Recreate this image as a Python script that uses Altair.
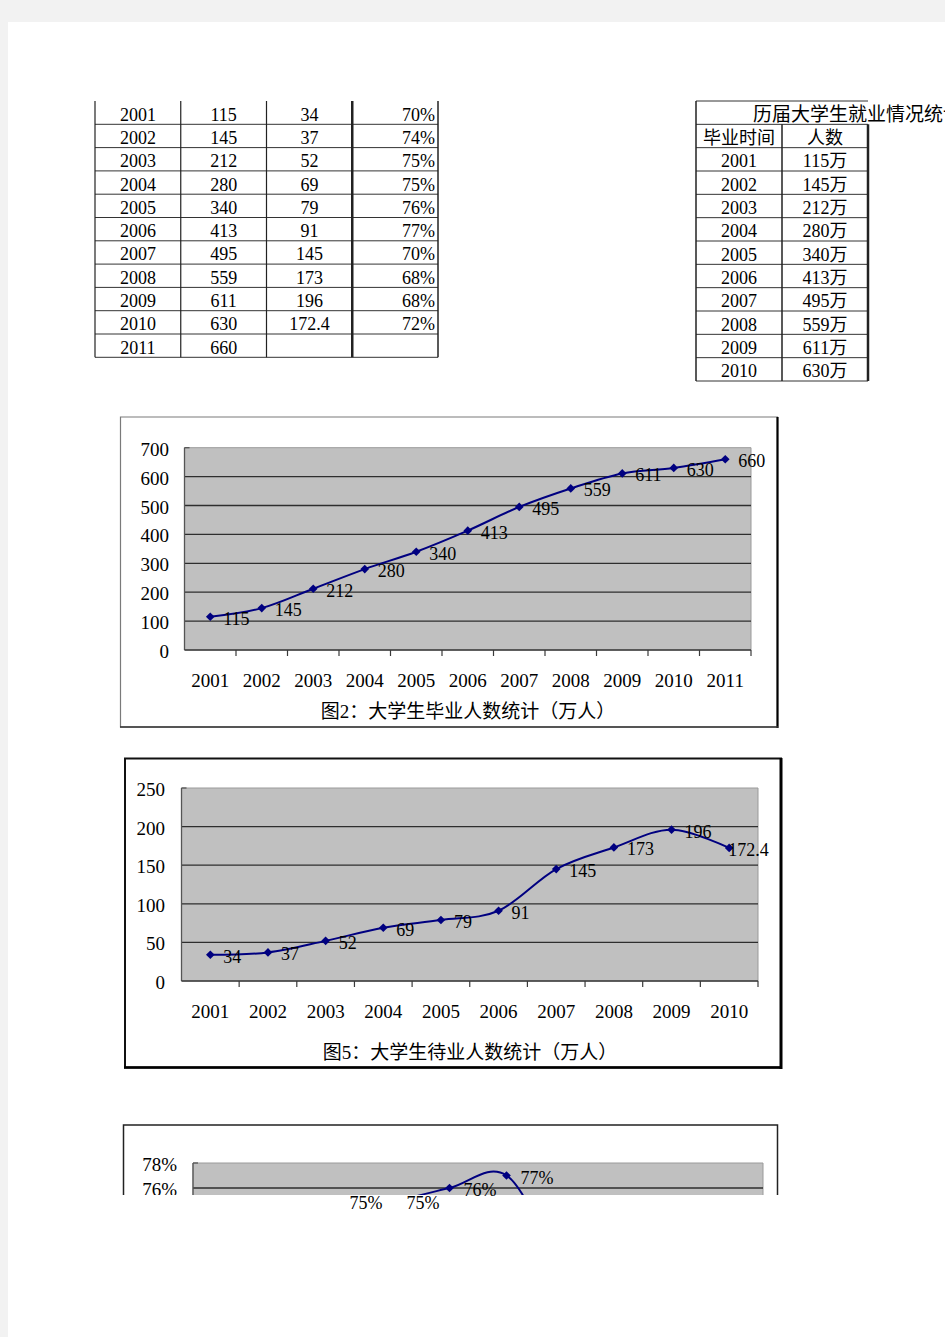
import altair as alt
import pandas as pd

# ---------------- data ----------------
years = [2001, 2002, 2003, 2004, 2005, 2006, 2007, 2008, 2009, 2010, 2011]
graduates = [115, 145, 212, 280, 340, 413, 495, 559, 611, 630, 660]
unemployed = [34, 37, 52, 69, 79, 91, 145, 173, 196, 172.4]
unemployed_text = ["34", "37", "52", "69", "79", "91", "145", "173", "196", "172.4"]
employment_rate = [70, 74, 75, 75, 76, 77, 70, 68, 68, 72]

table2_title = "历届大学生就业情况统计表"
table2_header = ["毕业时间", "人数"]
unit = "万"

chart1_title = "图2：大学生毕业人数统计（万人）"
chart2_title = "图5：大学生待业人数统计（万人）"

y1_ticks = [0, 100, 200, 300, 400, 500, 600, 700]
y2_ticks = [0, 50, 100, 150, 200, 250]
y3_ticks = [66, 68, 70, 72, 74, 76, 78]

# ---------------- style ----------------
FONT = "Liberation Serif, Noto Sans CJK SC"
NAVY = "#000080"
PLOT_BG = "#c0c0c0"
ONE = pd.DataFrame({"a": [0]})


def sc(domain, rng):
    return alt.Scale(domain=domain, range=rng, nice=False, zero=False)


def X(f, s):
    return alt.X(f, type="quantitative", scale=s, axis=None)


def Y(f, s):
    return alt.Y(f, type="quantitative", scale=s, axis=None)


def box(x0, x1, y0, y1, fill="white", stroke="#808080", sw=1.0):
    return alt.Chart(ONE).mark_rect(fill=fill, stroke=stroke, strokeWidth=sw).encode(
        x=alt.value(x0), x2=alt.value(x1), y=alt.value(y0), y2=alt.value(y1))


def vline(x, y0, y1, color="black", sw=2.0):
    return alt.Chart(ONE).mark_rule(color=color, strokeWidth=sw).encode(
        x=alt.value(x), y=alt.value(y0), y2=alt.value(y1))


def hline(y, x0, x1, color="black", sw=2.0):
    return alt.Chart(ONE).mark_rule(color=color, strokeWidth=sw).encode(
        y=alt.value(y), x=alt.value(x0), x2=alt.value(x1))


# ---------------- page ----------------
page = box(8, 945, 22, 1337, fill="white", stroke="white", sw=0)

# ---------------- table 1 ----------------
t1x = sc([0, 4], [95, 438])
t1y = sc([0, 11], [101, 357.3])
cells = []
for i, yr in enumerate(years):
    cells.append({"c": 0.5, "r": i + 0.5, "t": str(yr)})
    cells.append({"c": 1.5, "r": i + 0.5, "t": str(graduates[i])})
    if i < len(unemployed):
        cells.append({"c": 2.5, "r": i + 0.5, "t": unemployed_text[i]})
pct = [{"c": 4, "r": i + 0.5, "t": f"{v}%"} for i, v in enumerate(employment_rate)]
t1_h = pd.DataFrame({"r": list(range(1, 12)), "c0": 0, "c1": 4})
t1_v = pd.DataFrame({"c": [0, 1, 2, 3, 4], "r0": 0, "r1": 11, "w": [1.2, 1.2, 1.2, 2.5, 1.5]})

table1 = alt.layer(
    alt.Chart(t1_h).mark_rule(color="#333333", strokeWidth=1).encode(
        x=X("c0", t1x), x2="c1", y=Y("r", t1y)),
    alt.Chart(t1_v).mark_rule(color="#222222").encode(
        x=X("c", t1x), y=Y("r0", t1y), y2="r1", strokeWidth=alt.StrokeWidth("w:Q", scale=None)),
    alt.Chart(pd.DataFrame(cells)).mark_text(font=FONT, fontSize=18, baseline="middle", dy=3).encode(
        x=X("c", t1x), y=Y("r", t1y), text="t:N"),
    alt.Chart(pd.DataFrame(pct)).mark_text(font=FONT, fontSize=18, baseline="middle", align="right", dx=-3, dy=3).encode(
        x=X("c", t1x), y=Y("r", t1y), text="t:N"),
)

# ---------------- table 2 ----------------
t2x = sc([0, 2], [696, 868])
t2y = sc([0, 12], [101, 381])
cells2 = [{"c": 0.5, "r": 1.5, "t": table2_header[0]}, {"c": 1.5, "r": 1.5, "t": table2_header[1]}]
for i in range(10):
    cells2.append({"c": 0.5, "r": i + 2.5, "t": str(years[i])})
    cells2.append({"c": 1.5, "r": i + 2.5, "t": f"{graduates[i]}{unit}"})
t2_h = pd.DataFrame({"r": list(range(0, 13)), "c0": 0, "c1": 2})
t2_v = pd.DataFrame({"c": [0, 1, 2], "r0": [0, 1, 1], "r1": 12, "w": [1.5, 1.5, 2.5]})

table2 = alt.layer(
    alt.Chart(t2_h).mark_rule(color="#333333", strokeWidth=1).encode(
        x=X("c0", t2x), x2="c1", y=Y("r", t2y)),
    alt.Chart(t2_v).mark_rule(color="#222222").encode(
        x=X("c", t2x), y=Y("r0", t2y), y2="r1", strokeWidth=alt.StrokeWidth("w:Q", scale=None)),
    alt.Chart(pd.DataFrame(cells2)).mark_text(font=FONT, fontSize=18, baseline="middle", dy=3).encode(
        x=X("c", t2x), y=Y("r", t2y), text="t:N"),
    alt.Chart(pd.DataFrame({"r": [0.5], "t": [table2_title]})).mark_text(
        font=FONT, fontSize=19, baseline="middle", align="left", dy=2).encode(
        x=alt.value(753), y=Y("r", t2y), text="t:N"),
)


# ---------------- line charts ----------------
def line_chart(xs, vals, labs, xdom, xr, ydom, yr, yticks, ytxt, ylab_x, xlab_y,
               title, title_x, title_y, last_label_special=False):
    xs_ = sc(xdom, xr)
    ys_ = sc(ydom, yr)
    df = pd.DataFrame({"year": xs, "v": vals, "lab": labs})
    bg = pd.DataFrame({"x0": [xdom[0]], "x1": [xdom[1]], "y0": [ydom[0]], "y1": [ydom[1]]})
    grid = pd.DataFrame({"v": yticks[1:-1], "x0": xdom[0], "x1": xdom[1]})
    ticks = pd.DataFrame({"b": [xdom[0] + k for k in range(1, int(xdom[1] - xdom[0]) + 1)], "y0": ydom[0]})
    ylabs = pd.DataFrame({"v": yticks, "t": ytxt})
    xlabs = pd.DataFrame({"year": xs, "t": [str(x) for x in xs]})
    base_bottom = yr[0]
    layers = [
        alt.Chart(bg).mark_rect(fill=PLOT_BG, stroke="#9a9a9a", strokeWidth=1).encode(
            x=X("x0", xs_), x2="x1", y=Y("y0", ys_), y2="y1"),
        alt.Chart(grid).mark_rule(color="#2e2e2e", strokeWidth=1.3).encode(
            x=X("x0", xs_), x2="x1", y=Y("v", ys_)),
        alt.Chart(bg).mark_rule(color="#555555", strokeWidth=1.3).encode(
            x=X("x0", xs_), y=Y("y0", ys_), y2="y1"),
        alt.Chart(bg).mark_rule(color="#555555", strokeWidth=1.3).encode(
            x=X("x0", xs_), y=Y("y1", ys_), x2=alt.value(xr[0] + 5)),
        alt.Chart(bg).mark_rule(color="#3a3a3a", strokeWidth=1.5).encode(
            x=X("x0", xs_), x2="x1", y=Y("y0", ys_)),
        alt.Chart(ticks).mark_rule(color="#3a3a3a", strokeWidth=1.2).encode(
            x=X("b", xs_), y=Y("y0", ys_), y2=alt.value(base_bottom + 6)),
        alt.Chart(df).mark_line(color=NAVY, strokeWidth=2, interpolate="cardinal").encode(
            x=X("year", xs_), y=Y("v", ys_)),
        alt.Chart(df).mark_point(shape="diamond", filled=True, size=75, color=NAVY, opacity=1).encode(
            x=X("year", xs_), y=Y("v", ys_)),
        alt.Chart(ylabs).mark_text(font=FONT, fontSize=19, align="right", baseline="middle", dy=2).encode(
            x=alt.value(ylab_x), y=Y("v", ys_), text="t:N"),
        alt.Chart(xlabs).mark_text(font=FONT, fontSize=19, align="center", baseline="middle", dy=2).encode(
            x=X("year", xs_), y=alt.value(xlab_y), text="t:N"),
        alt.Chart(pd.DataFrame({"t": [title]})).mark_text(font=FONT, fontSize=19, align="center", baseline="middle", dy=2).encode(
            x=alt.value(title_x), y=alt.value(title_y), text="t:N"),
    ]
    last = xs[-1]
    if last_label_special:
        layers.append(alt.Chart(df).transform_filter(alt.datum.year < last).mark_text(
            font=FONT, fontSize=18, align="left", baseline="middle", dx=13, dy=3).encode(
            x=X("year", xs_), y=Y("v", ys_), text="lab:N"))
        layers.append(alt.Chart(df).transform_filter(alt.datum.year == last).mark_text(
            font=FONT, fontSize=18, align="left", baseline="middle", dx=-1, dy=3).encode(
            x=X("year", xs_), y=Y("v", ys_), text="lab:N"))
    else:
        layers.append(alt.Chart(df).mark_text(
            font=FONT, fontSize=18, align="left", baseline="middle", dx=13, dy=3).encode(
            x=X("year", xs_), y=Y("v", ys_), text="lab:N"))
    return alt.layer(*layers)


frame1 = alt.layer(
    box(120.5, 777.5, 417, 727, stroke="#7a7a7a", sw=1.2),
    vline(777.5, 417, 728, sw=2.2),
    hline(727, 120, 778, color="#333333", sw=1.5),
)
chart1 = line_chart(years, graduates, [str(v) for v in graduates],
                    [2000.5, 2011.5], [184.5, 751], [0, 700], [650, 447.7],
                    y1_ticks, [str(v) for v in y1_ticks], 169, 679,
                    chart1_title, 468, 710)

frame2 = alt.layer(
    box(125, 781, 758.5, 1067.5, stroke="#111111", sw=2),
    vline(781, 758, 1069, sw=3),
    hline(1067.5, 124, 782, sw=2.5),
)
chart2 = line_chart(years[:10], unemployed, unemployed_text,
                    [2000.5, 2010.5], [181.5, 758], [0, 250], [981, 788],
                    y2_ticks, [str(v) for v in y2_ticks], 165, 1010,
                    chart2_title, 470, 1051, last_label_special=True)

# ---------------- chart 3 (cut off at page bottom) ----------------
x3 = sc([2000.5, 2010.5], [193, 763])
y3 = sc([66, 78], [1313, 1163])
df3 = pd.DataFrame({"year": years[:10], "v": employment_rate,
                    "lab": [f"{v}%" for v in employment_rate]})
bg3 = pd.DataFrame({"x0": [2000.5], "x1": [2010.5], "y0": [66], "y1": [78]})
grid3 = pd.DataFrame({"v": y3_ticks[1:-1], "x0": 2000.5, "x1": 2010.5})
ylab3 = pd.DataFrame({"v": y3_ticks, "t": [f"{v}%" for v in y3_ticks]})

chart3 = alt.layer(
    box(123.5, 777.5, 1125, 1320, stroke="#222222", sw=1.5),
    alt.Chart(bg3).mark_rect(fill=PLOT_BG, stroke="#9a9a9a", strokeWidth=1).encode(
        x=X("x0", x3), x2="x1", y=Y("y0", y3), y2="y1"),
    alt.Chart(grid3).mark_rule(color="#2e2e2e", strokeWidth=1.3).encode(
        x=X("x0", x3), x2="x1", y=Y("v", y3)),
    alt.Chart(bg3).mark_rule(color="#555555", strokeWidth=1.3).encode(
        x=X("x0", x3), y=Y("y0", y3), y2="y1"),
    alt.Chart(bg3).mark_rule(color="#555555", strokeWidth=1.3).encode(
        x=X("x0", x3), y=Y("y1", y3), x2=alt.value(198)),
    alt.Chart(df3).mark_line(color=NAVY, strokeWidth=2, interpolate="cardinal").encode(
        x=X("year", x3), y=Y("v", y3)),
    alt.Chart(df3).mark_point(shape="diamond", filled=True, size=75, color=NAVY, opacity=1).encode(
        x=X("year", x3), y=Y("v", y3)),
    alt.Chart(ylab3).mark_text(font=FONT, fontSize=19, align="right", baseline="middle", dy=2).encode(
        x=alt.value(177), y=Y("v", y3), text="t:N"),
)

cover = box(100, 820, 1195, 1337, fill="white", stroke="white", sw=0)

labels3 = alt.Chart(df3).transform_filter(alt.datum.v >= 75).mark_text(
    font=FONT, fontSize=18, align="left", baseline="middle", dx=14, dy=3).encode(
    x=X("year", x3), y=Y("v", y3), text="lab:N")

chart = alt.layer(
    page, table1, table2, frame1, chart1, frame2, chart2, chart3, cover, labels3
).resolve_scale(
    x="independent", y="independent"
).properties(
    width=945, height=1337, padding=0,
    autosize=alt.AutoSizeParams(type="none"),
    background="#f2f2f2",
).configure_view(strokeWidth=0)

chart.save("out.html", embed_options={"renderer": "svg", "actions": False})
